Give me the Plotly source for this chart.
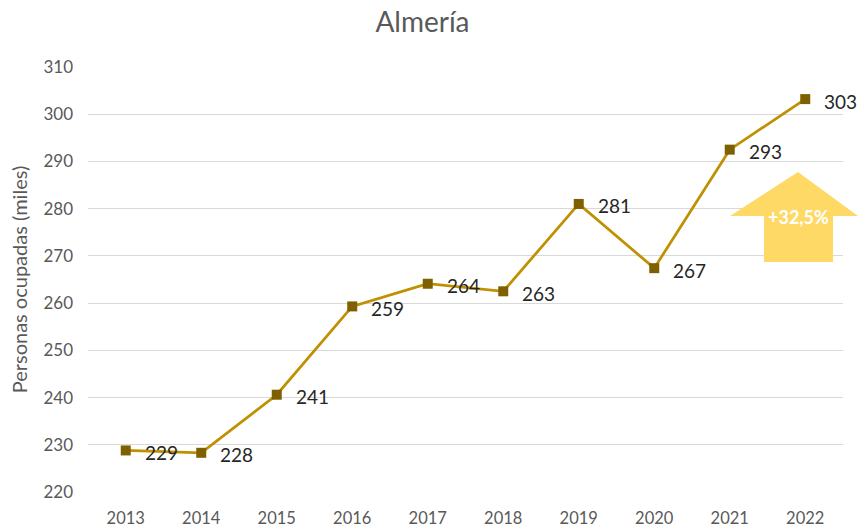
import plotly.graph_objects as go

# datos
anios = ["2013", "2014", "2015", "2016", "2017", "2018", "2019", "2020", "2021", "2022"]
ocupados = [228.8, 228.3, 240.6, 259.3, 264.1, 262.5, 281.0, 267.4, 292.5, 303.2]
etiquetas = ["229", "228", "241", "259", "264", "263", "281", "267", "293", "303"]
y_ticks = [220, 230, 240, 250, 260, 270, 280, 290, 300, 310]
variacion = "+32,5%"

FONT = "Lato, 'Open Sans', sans-serif"
GRIS = "#595959"

fig = go.Figure(go.Scatter(
    x=anios, y=ocupados, mode="lines+markers",
    line=dict(color="#BF9000", width=2.75),
    marker=dict(symbol="square", size=10, color="#7F6000"),
    cliponaxis=False, hoverinfo="x+y",
))

# etiquetas de datos a la derecha de cada punto (x por índice de categoría)
for i, (v, t) in enumerate(zip(ocupados, etiquetas)):
    fig.add_annotation(x=i, y=v, text=t, showarrow=False, xanchor="left",
                       xshift=17, yshift=-2,
                       font=dict(size=19, color="#262626", family=FONT))

# flecha de variación (coordenadas de papel)
fig.add_shape(
    type="path", xref="paper", yref="paper",
    path="M 0.9404 0.7529 L 1.0199 0.6494 L 0.9868 0.6494 L 0.9868 0.5412 "
         "L 0.8954 0.5412 L 0.8954 0.6494 L 0.8503 0.6494 Z",
    fillcolor="#FFD966", line=dict(width=0), layer="above",
)
fig.add_annotation(
    x=0.9411, y=0.6475, xref="paper", yref="paper", text=f"<b>{variacion}</b>",
    xanchor="center", yanchor="middle", showarrow=False,
    font=dict(size=18, color="white", family=FONT),
)

fig.update_layout(
    width=858, height=529,
    margin=dict(l=88, r=15, t=67, b=37),
    paper_bgcolor="white", plot_bgcolor="white",
    showlegend=False,
    title=dict(text="Almería", x=0.4924, xanchor="center", y=0.958, yanchor="middle",
               font=dict(size=28, color=GRIS, family=FONT)),
    xaxis=dict(type="category", range=[-0.5, 9.5], showgrid=False, showline=False,
               ticks="", automargin=False, ticklabelstandoff=14,
               tickfont=dict(size=16.5, color=GRIS, family=FONT)),
    yaxis=dict(range=[220, 310], tickvals=y_ticks, showgrid=True, gridcolor="#D9D9D9",
               gridwidth=1, zeroline=False, showline=False, ticks="", ticklen=0,
               automargin=False, ticklabelstandoff=14,
               tickfont=dict(size=17, color=GRIS, family=FONT),
               title=dict(text="Personas ocupadas (miles)", standoff=10,
                          font=dict(size=20, color=GRIS, family=FONT))),
)

# sin margen en el body para que la figura ocupe toda la ventana
fig.write_html("out.html", config={"displayModeBar": False},
               post_script="document.body.style.margin='0px';")
